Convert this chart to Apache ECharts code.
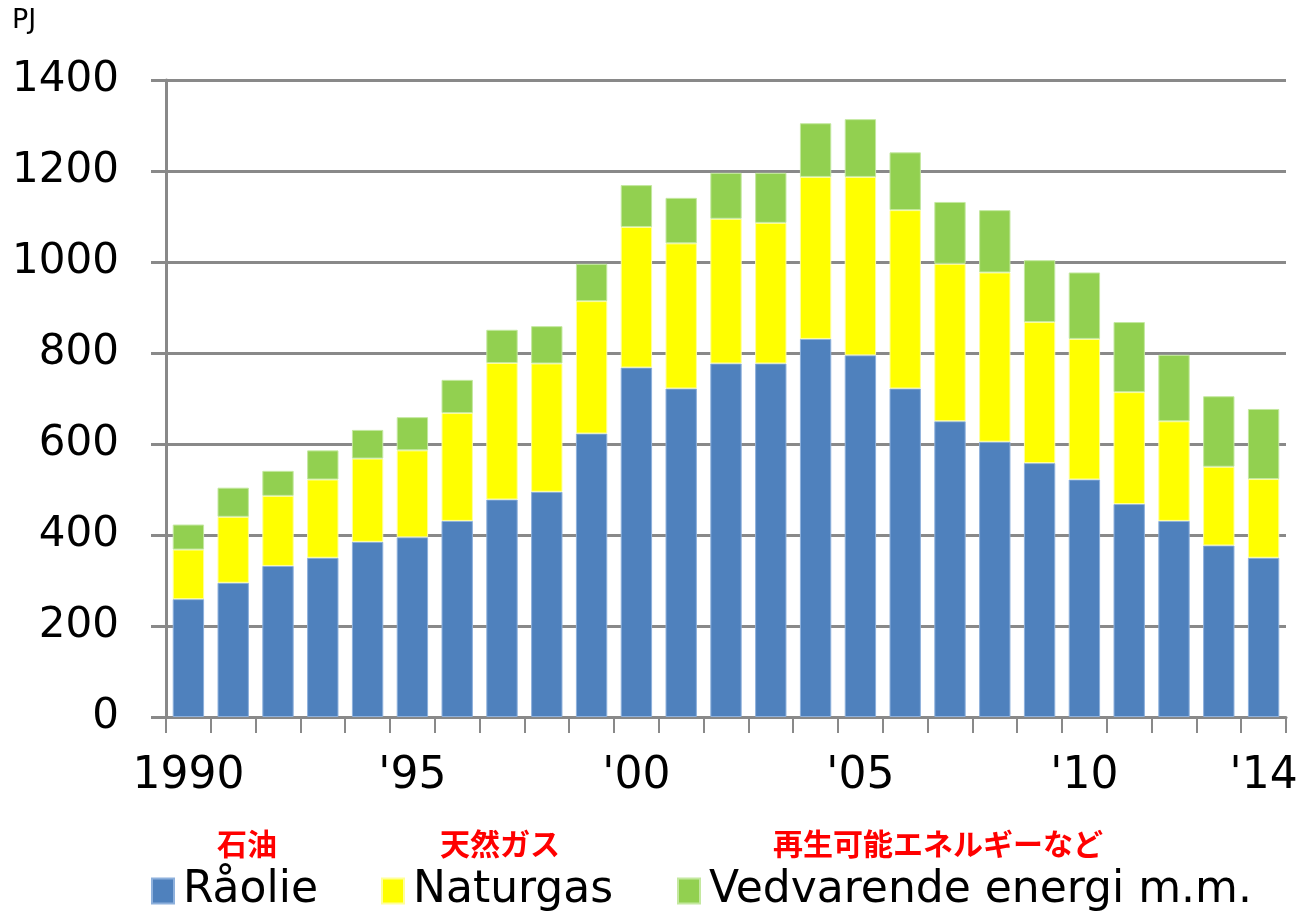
<!DOCTYPE html>
<html>
<head>
<meta charset="utf-8">
<style>
  html, body { margin: 0; padding: 0; background: #ffffff; }
  #chart { width: 1307px; height: 914px; }
</style>
<script src="https://cdn.jsdelivr.net/npm/echarts@6/dist/echarts.min.js"></script>
</head>
<body>
<div id="chart"></div>
<script>
// Years 1990–2014, short labels used on the category axis
const categories = ['1990', "'91", "'92", "'93", "'94", "'95", "'96", "'97", "'98", "'99",
  "'00", "'01", "'02", "'03", "'04", "'05", "'06", "'07", "'08", "'09",
  "'10", "'11", "'12", "'13", "'14"];
// Category indices whose label is printed under the axis
const labelledYears = [0, 5, 10, 15, 20, 24];

// Primary energy by source, PJ
const raaolie = [259, 295, 332, 350, 385, 395, 431, 478, 495, 623,
  768, 722, 777, 777, 831, 795, 722, 650, 605, 558,
  522, 468, 431, 377, 350];
const naturgas = [109, 145, 154, 172, 183, 191, 237, 300, 282, 291,
  309, 319, 318, 309, 356, 392, 392, 346, 372, 310,
  309, 246, 219, 173, 173];
const vedvarende = [55, 64, 55, 64, 63, 73, 73, 73, 82, 82,
  92, 100, 101, 110, 118, 127, 127, 136, 137, 136,
  146, 154, 146, 155, 154];

const seriesNames = ['Råolie', 'Naturgas', 'Vedvarende energi m.m.'];
const seriesJa = ['石油', '天然ガス', '再生可能エネルギーなど'];
const yTicks = { min: 0, max: 1400, step: 200 };

const latin = "'DejaVu Sans', Verdana, sans-serif";
const cjk = "'Noto Sans CJK JP', sans-serif";
const gridGray = '#898989';

const chart = echarts.init(document.getElementById('chart'), null, { renderer: 'canvas' });

function legendItem(name, left) {
  return {
    data: [name],
    left: left,
    top: 864,
    itemWidth: 22,
    itemHeight: 25,
    icon: 'rect',
    selectedMode: false,
    textStyle: { fontFamily: latin, fontSize: 44, color: '#000', padding: [0, 0, 0, 4] }
  };
}

function barSeries(name, data, color, border) {
  return {
    name: name,
    type: 'bar',
    stack: 'total',
    data: data,
    barWidth: '70%',
    itemStyle: { color: color, borderColor: border, borderWidth: 1 },
    emphasis: { disabled: true }
  };
}

chart.setOption({
  animation: false,
  backgroundColor: '#ffffff',
  grid: { left: 166, right: 21, top: 80, bottom: 197, containLabel: false },
  legend: [
    legendItem(seriesNames[0], 146),
    legendItem(seriesNames[1], 376),
    legendItem(seriesNames[2], 672)
  ],
  xAxis: {
    type: 'category',
    data: categories,
    boundaryGap: true,
    axisLine: { lineStyle: { color: gridGray, width: 3 } },
    axisTick: { show: true, interval: 0, length: 16, lineStyle: { color: gridGray, width: 2 } },
    axisLabel: {
      interval: function (idx) { return labelledYears.indexOf(idx) !== -1; },
      margin: 38,
      fontFamily: latin,
      fontSize: 44,
      color: '#000'
    },
    splitLine: { show: false }
  },
  yAxis: {
    type: 'value',
    min: yTicks.min,
    max: yTicks.max,
    interval: yTicks.step,
    axisLine: { show: true, lineStyle: { color: gridGray, width: 3 } },
    axisTick: { show: true, length: 15, lineStyle: { color: gridGray, width: 3 } },
    axisLabel: {
      margin: 47,
      fontFamily: latin,
      fontSize: 42,
      color: '#000',
      formatter: function (v) { return String(v); }
    },
    splitLine: { show: true, lineStyle: { color: gridGray, width: 3 } }
  },
  series: [
    barSeries(seriesNames[0], raaolie, '#4F81BD', '#8db0dc'),
    barSeries(seriesNames[1], naturgas, '#FFFF00', '#ffff9a'),
    barSeries(seriesNames[2], vedvarende, '#92D050', '#c4e8a0')
  ],
  graphic: [
    { type: 'text', left: 12, top: 7,
      style: { text: 'PJ', font: "27px 'DejaVu Sans', sans-serif", fill: '#000' } },
    { type: 'text', left: 217, top: 829,
      style: { text: seriesJa[0], font: "bold 30px " + cjk, fill: '#ff0000' } },
    { type: 'text', left: 440, top: 829,
      style: { text: seriesJa[1], font: "bold 30px " + cjk, fill: '#ff0000' } },
    { type: 'text', left: 773, top: 829,
      style: { text: seriesJa[2], font: "bold 30px " + cjk, fill: '#ff0000' } }
  ]
});
</script>
</body>
</html>
